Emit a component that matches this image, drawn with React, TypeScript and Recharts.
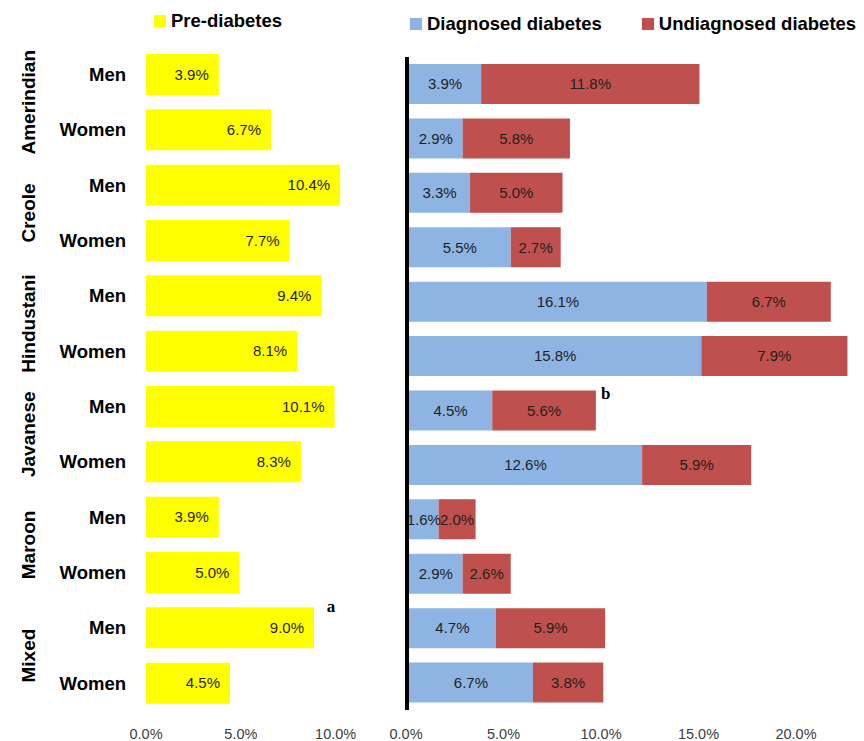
import React from 'react';
import { BarChart, Bar, XAxis, YAxis, LabelList, Legend } from 'recharts';

const groups = ['Amerindian', 'Amerindian', 'Creole', 'Creole', 'Hindustani', 'Hindustani', 'Javanese', 'Javanese', 'Maroon', 'Maroon', 'Mixed', 'Mixed'];
const sexes = ['Men', 'Women', 'Men', 'Women', 'Men', 'Women', 'Men', 'Women', 'Men', 'Women', 'Men', 'Women'];
const preDiabetes = [3.9, 6.7, 10.4, 7.7, 9.4, 8.1, 10.1, 8.3, 3.9, 5.0, 9.0, 4.5];
const diagnosed = [3.9, 2.9, 3.3, 5.5, 16.1, 15.8, 4.5, 12.6, 1.6, 2.9, 4.7, 6.7];
const undiagnosed = [11.8, 5.8, 5.0, 2.7, 6.7, 7.9, 5.6, 5.9, 2.0, 2.6, 5.9, 3.8];
const notesLeft = ['', '', '', '', '', '', '', '', '', '', 'a', ''];
const notesRight = ['', '', '', '', '', '', 'b', '', '', '', '', ''];
const leftTicks = [0, 5, 10];
const rightTicks = [0, 5, 10, 15, 20];

const YELLOW = '#FFFF00';
const BLUE = '#8EB4E3';
const RED = '#C0504D';
const FONT = '"Liberation Sans", Arial, sans-serif';

const data = groups.map((g, i) => ({
  key: `${g}|${sexes[i]}`,
  pre: preDiabetes[i],
  diag: diagnosed[i],
  undiag: undiagnosed[i],
  noteL: notesLeft[i],
  noteR: notesRight[i],
}));

const pct = (v: any) => `${Number(v).toFixed(1)}%`;

function RowTick(props: any) {
  const { x, y, payload } = props;
  const [group, sex] = String(payload.value).split('|');
  return (
    <g>
      <text x={x} y={y} dy="0.35em" textAnchor="end" fontFamily={FONT} fontWeight="bold" fontSize={18.5} fill="#000">
        {sex}
      </text>
      {sex === 'Men' && (
        <text
          transform={`translate(28, ${y + 27.6}) rotate(-90)`}
          textAnchor="middle"
          dy="0.35em"
          fontFamily={FONT}
          fontWeight="bold"
          fontSize={19}
          fill="#000"
        >
          {group}
        </text>
      )}
    </g>
  );
}

function makeValueTick(k: number, c: number) {
  return (props: any) => {
    const { x, y, payload } = props;
    return (
      <text x={x + payload.value * k + c} y={y} dy="0.71em" textAnchor="middle" fontFamily={FONT} fontSize={14.5} fill="#404040">
        {pct(payload.value)}
      </text>
    );
  };
}

function makeNote(dxEnd: number, dyTop: number) {
  return (p: any) => {
    if (!p.value) return null;
    const vb = p.viewBox || p;
    return (
      <text
        x={vb.x + vb.width + dxEnd}
        y={vb.y + dyTop}
        textAnchor="middle"
        fontFamily='"Liberation Serif", serif'
        fontWeight="bold"
        fontSize={17}
        fill="#000"
      >
        {p.value}
      </text>
    );
  };
}

function LegendContent(props: any) {
  const { payload } = props;
  return (
    <div style={{ display: 'flex', gap: 40 }}>
      {(payload || []).map((e: any) => (
        <div key={e.value} style={{ display: 'flex', alignItems: 'center' }}>
          <span style={{ display: 'inline-block', width: 12, height: 12, background: e.color, marginRight: 5 }} />
          <span style={{ fontFamily: FONT, fontWeight: 'bold', fontSize: 18.5, color: '#000', whiteSpace: 'nowrap' }}>{e.value}</span>
        </div>
      ))}
    </div>
  );
}

const labelStyle = { fontFamily: FONT, fontSize: 15, fill: '#1f1f1f' };

export default function App() {
  return (
    <div style={{ position: 'absolute', left: 0, top: 0, width: 864, height: 741, background: '#fff' }}>
      <div style={{ position: 'absolute', left: 0, top: 0 }}>
        <BarChart width={380} height={741} data={data} layout="vertical" margin={{ top: 47, right: 10, bottom: 0, left: 0 }}>
          <XAxis
            type="number"
            domain={[0, 12]}
            ticks={leftTicks}
            height={30}
            axisLine={false}
            tickLine={false}
            tickSize={0}
            tickMargin={18}
            tick={makeValueTick(0.3, 0)}
          />
          <YAxis type="category" dataKey="key" width={146} axisLine={false} tickLine={false} tickSize={0} tickMargin={20} tick={RowTick} interval={0} />
          <Legend
            verticalAlign="middle"
            content={LegendContent}
            wrapperStyle={{ position: 'absolute', top: 10, left: 154, width: 'auto' }}
          />
          <Bar dataKey="pre" name="Pre-diabetes" fill={YELLOW} barSize={41} isAnimationActive={false}>
            <LabelList dataKey="pre" position="insideRight" offset={10} formatter={pct} {...labelStyle} />
            <LabelList dataKey="noteL" content={makeNote(17, 5)} />
          </Bar>
        </BarChart>
      </div>
      <div style={{ position: 'absolute', left: 380, top: 0 }}>
        <BarChart width={484} height={741} data={data} layout="vertical" margin={{ top: 57, right: 11, bottom: 0, left: 0 }}>
          <XAxis
            type="number"
            domain={[0, 24]}
            ticks={rightTicks}
            padding={{ left: 2, right: 0 }}
            height={31}
            axisLine={false}
            tickLine={false}
            tickSize={0}
            tickMargin={19}
            tick={makeValueTick(1.0, -3)}
          />
          <YAxis type="category" dataKey="key" width={27} tick={false} tickLine={false} axisLine={{ stroke: '#000', strokeWidth: 4 }} />
          <Legend
            verticalAlign="middle"
            content={LegendContent}
            wrapperStyle={{ position: 'absolute', top: 13, left: 30, width: 'auto' }}
          />
          <Bar dataKey="diag" name="Diagnosed diabetes" stackId="s" fill={BLUE} barSize={40} isAnimationActive={false}>
            <LabelList dataKey="diag" position="center" formatter={pct} {...labelStyle} />
          </Bar>
          <Bar dataKey="undiag" name="Undiagnosed diabetes" stackId="s" fill={RED} barSize={40} isAnimationActive={false}>
            <LabelList dataKey="undiag" position="center" formatter={pct} {...labelStyle} />
            <LabelList dataKey="noteR" content={makeNote(10, 8)} />
          </Bar>
        </BarChart>
      </div>
    </div>
  );
}
